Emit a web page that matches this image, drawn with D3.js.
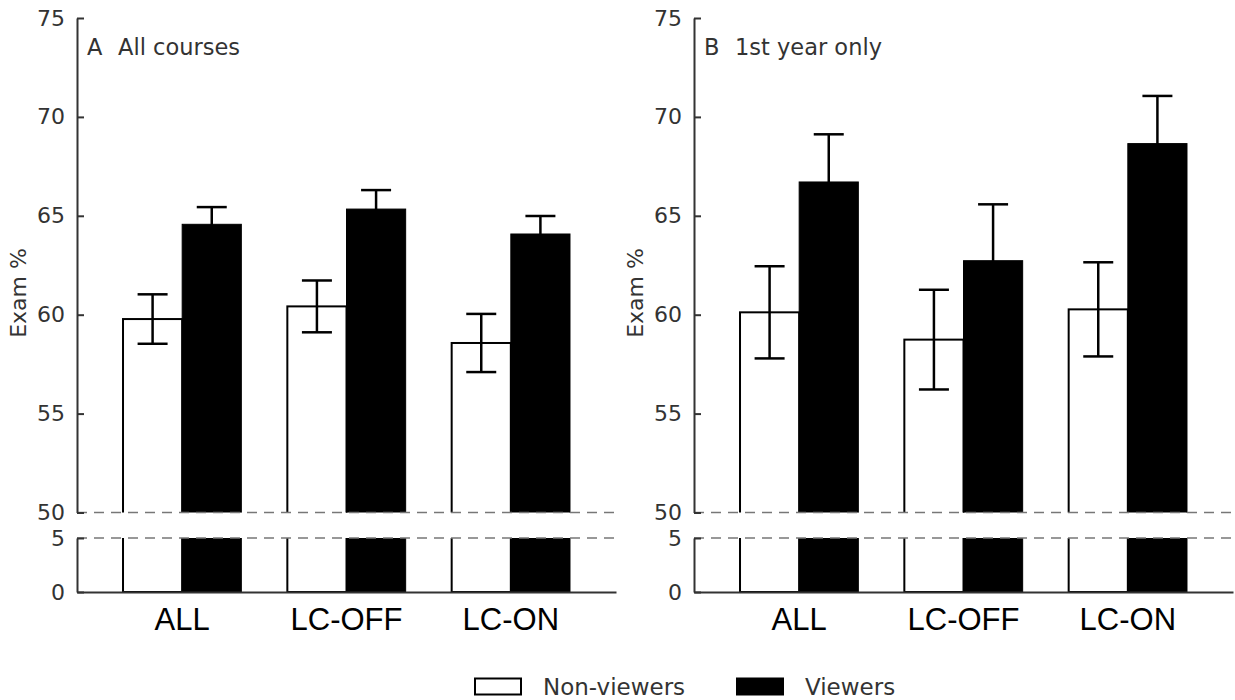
<!DOCTYPE html>
<html>
<head>
<meta charset="utf-8">
<script src="https://cdn.jsdelivr.net/npm/d3@7"></script>
<style>
  html, body { margin: 0; padding: 0; background: #fff; }
  svg { display: block; }
</style>
</head>
<body>
<svg id="chart" width="1235" height="700"></svg>
<script>
// ---- Data ----
const categories = ["ALL", "LC-OFF", "LC-ON"];
const seriesNames = ["Non-viewers", "Viewers"];
const panelTitles = [["A", "All courses"], ["B", "1st year only"]];

const panelA_nonViewers    = [59.78, 60.42, 58.57];
const panelA_nonViewersErr = [1.25, 1.31, 1.47];
const panelA_viewers       = [64.57, 65.34, 64.08];
const panelA_viewersErr    = [0.87, 0.96, 0.91];

const panelB_nonViewers    = [60.12, 58.74, 60.27];
const panelB_nonViewersErr = [2.33, 2.52, 2.38];
const panelB_viewers       = [66.71, 62.73, 68.65];
const panelB_viewersErr    = [2.41, 2.85, 2.41];

const upperTicks = [50, 55, 60, 65, 70, 75];
const lowerTicks = [0, 5];
const yLabel = "Exam %";

// ---- Layout ----
const svg = d3.select("#chart");
const textColor = "#333";
const axisColor = "#333";

const panels = [
  { x0: 77, x1: 616, title: panelTitles[0],
    non: panelA_nonViewers, nonErr: panelA_nonViewersErr,
    vie: panelA_viewers, vieErr: panelA_viewersErr },
  { x0: 694, x1: 1233, title: panelTitles[1],
    non: panelB_nonViewers, nonErr: panelB_nonViewersErr,
    vie: panelB_viewers, vieErr: panelB_viewersErr }
];

const yUpper = d3.scaleLinear().domain([50, 75]).range([512.5, 18]);
const yLower = d3.scaleLinear().domain([0, 5]).range([592, 538]);

const defs = svg.append("defs");

panels.forEach((p, pi) => {
  const g = svg.append("g");
  const xBand = d3.scaleBand().domain(categories).range([p.x0, p.x1])
    .paddingInner(0.28).paddingOuter(0.28);
  const xSub = d3.scaleBand().domain(seriesNames).range([0, xBand.bandwidth()]);

  const rows = categories.map((c, i) => ({
    cat: c,
    vals: [
      { s: seriesNames[0], v: p.non[i], e: p.nonErr[i] },
      { s: seriesNames[1], v: p.vie[i], e: p.vieErr[i] }
    ]
  }));

  // clip paths
  const cu = "clipU" + pi, cl = "clipL" + pi;
  defs.append("clipPath").attr("id", cu).append("rect")
    .attr("x", p.x0).attr("y", yUpper(75) - 100)
    .attr("width", p.x1 - p.x0).attr("height", yUpper(50) - yUpper(75) + 100);
  defs.append("clipPath").attr("id", cl).append("rect")
    .attr("x", p.x0).attr("y", yLower(5))
    .attr("width", p.x1 - p.x0).attr("height", yLower(0) - yLower(5));

  // --- upper bars ---
  const gu = g.append("g").attr("clip-path", `url(#${cu})`);
  rows.forEach(r => {
    r.vals.forEach(d => {
      const x = xBand(r.cat) + xSub(d.s);
      gu.append("rect")
        .attr("x", x).attr("width", xSub.bandwidth())
        .attr("y", yUpper(d.v))
        .attr("height", yUpper(40) - yUpper(d.v))
        .attr("fill", d.s === "Viewers" ? "#000" : "#fff")
        .attr("stroke", "#000")
        .attr("stroke-width", d.s === "Viewers" ? 1 : 2);
    });
  });

  // --- lower bars ---
  const gl = g.append("g").attr("clip-path", `url(#${cl})`);
  rows.forEach(r => {
    r.vals.forEach(d => {
      const x = xBand(r.cat) + xSub(d.s);
      gl.append("rect")
        .attr("x", x).attr("width", xSub.bandwidth())
        .attr("y", yLower(5) - 50)
        .attr("height", yLower(0) - yLower(5) + 50)
        .attr("fill", d.s === "Viewers" ? "#000" : "#fff")
        .attr("stroke", "#000")
        .attr("stroke-width", d.s === "Viewers" ? 1 : 2);
    });
  });

  // --- error bars ---
  const capW = 30;
  rows.forEach(r => {
    r.vals.forEach(d => {
      const cx = xBand(r.cat) + xSub(d.s) + xSub.bandwidth() / 2;
      const eg = g.append("g").attr("stroke", "#000").attr("stroke-width", 2.5);
      eg.append("line").attr("x1", cx).attr("x2", cx)
        .attr("y1", yUpper(d.v + d.e)).attr("y2", yUpper(d.v - d.e));
      [d.v + d.e, d.v - d.e].forEach(v => {
        eg.append("line").attr("x1", cx - capW / 2).attr("x2", cx + capW / 2)
          .attr("y1", yUpper(v)).attr("y2", yUpper(v));
      });
    });
  });

  // --- dashed break lines ---
  [yUpper(50), yLower(5)].forEach(yy => {
    g.append("line").attr("x1", p.x0).attr("x2", p.x1)
      .attr("y1", yy).attr("y2", yy)
      .attr("stroke", "#777").attr("stroke-width", 1.6)
      .attr("stroke-dasharray", "10,7");
  });

  // --- axes ---
  const axU = d3.axisLeft(yUpper).tickValues(upperTicks).tickFormat(d3.format("d"))
    .tickSizeInner(-7).tickSizeOuter(0).tickPadding(12);
  const gaU = g.append("g").attr("transform", `translate(${p.x0},0)`).call(axU);
  const axL = d3.axisLeft(yLower).tickValues(lowerTicks).tickFormat(d3.format("d"))
    .tickSizeInner(-7).tickSizeOuter(0).tickPadding(12);
  const gaL = g.append("g").attr("transform", `translate(${p.x0},0)`).call(axL);
  [gaU, gaL].forEach(ga => {
    ga.select(".domain").attr("stroke", axisColor).attr("stroke-width", 2);
    ga.selectAll(".tick line").attr("stroke", axisColor).attr("stroke-width", 2);
    ga.selectAll(".tick text")
      .attr("fill", textColor)
      .style("font-family", "DejaVu Sans")
      .style("font-size", "22px");
  });

  // bottom x axis line
  const axX = d3.axisBottom(xBand).tickSize(0).tickPadding(16);
  const gaX = g.append("g").attr("transform", `translate(0,${yLower(0)})`).call(axX);
  gaX.select(".domain").attr("stroke", axisColor).attr("stroke-width", 2);
  gaX.selectAll(".tick text")
    .attr("fill", "#000")
    .attr("dy", "0")
    .attr("y", 38)
    .style("font-family", "Liberation Sans, Arial, sans-serif")
    .style("font-size", "31px");

  // title
  g.append("text").attr("x", p.x0 + 10).attr("y", 55)
    .attr("fill", textColor)
    .style("font-family", "DejaVu Sans").style("font-size", "22.5px")
    .text(p.title[0]);
  g.append("text").attr("x", p.x0 + 41).attr("y", 55)
    .attr("fill", textColor)
    .style("font-family", "DejaVu Sans").style("font-size", "22.5px")
    .text(p.title[1]);

  // y label
  g.append("text")
    .attr("transform", `translate(${p.x0 - 51},293) rotate(-90)`)
    .attr("text-anchor", "middle")
    .attr("fill", textColor)
    .style("font-family", "DejaVu Sans").style("font-size", "22px")
    .text(yLabel);
});

// ---- Legend ----
const legend = svg.append("g");
const legendItems = [
  { name: seriesNames[0], fill: "#fff", x: 474 },
  { name: seriesNames[1], fill: "#000", x: 736 }
];
legendItems.forEach(li => {
  legend.append("rect").attr("x", li.x + 1).attr("y", 678.5)
    .attr("width", 46).attr("height", 16)
    .attr("fill", li.fill).attr("stroke", "#000").attr("stroke-width", 2);
  legend.append("text").attr("x", li.x + 69).attr("y", 695)
    .attr("fill", textColor)
    .style("font-family", "DejaVu Sans").style("font-size", "23px")
    .text(li.name);
});
</script>
</body>
</html>
